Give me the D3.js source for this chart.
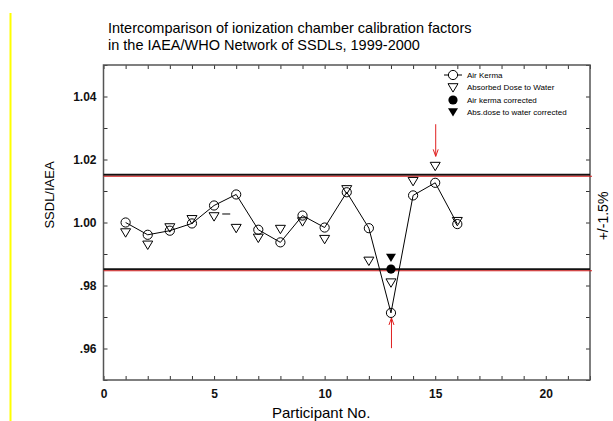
<!DOCTYPE html>
<html>
<head>
<meta charset="utf-8">
<script src="https://cdn.jsdelivr.net/npm/d3@7"></script>
<style>
  body { margin: 0; background: #fff; }
  svg { display: block; font-family: "Liberation Sans", Arial, sans-serif; }
  .axis path { display: none; }
  .axis line { stroke: #333; stroke-width: 1; }
  .axis text { font-size: 12px; font-weight: bold; fill: #111; font-family: "Liberation Sans", Arial, sans-serif; }
</style>
</head>
<body>
<svg width="613" height="421"></svg>
<script>
  const width = 613;
  const height = 421;
  const margin = {top: 65, right: 23, bottom: 41, left: 103.5};

  // participants 1..16
  const participants = [1, 2, 3, 4, 5, 6, 7, 8, 9, 10, 11, 12, 13, 14, 15, 16];
  const airKerma = [1.0000, 0.9961, 0.9974, 0.9997, 1.0054, 1.0089, 0.9977, 0.9937,
                    1.0022, 0.9984, 1.0096, 0.9982, 0.9713, 1.0086, 1.0126, 0.9995];
  const absDose = [0.9968, 0.9929, 0.9984, 1.0010, 1.0019, 0.9982, 0.9951, 0.9979,
                   1.0003, 0.9947, 1.0105, 0.9878, 0.9809, 1.0131, 1.0179, 1.0004];
  const airKermaCorrected = [{p: 13, v: 0.9852}];
  const absDoseCorrected = [{p: 13, v: 0.9889}];
  const limits = [1.015, 0.985];
  // red arrows (participant, tail value, head value)
  const arrows = [{p: 15, from: 1.0312, to: 1.0210}, {p: 13, from: 0.9601, to: 0.9697}];
  // stray dash near participant 5-6
  const dashes = [{p: 5.55, v: 1.0027}];

  const xTicks = [0, 1, 2, 3, 4, 5, 6, 7, 8, 9, 10, 11, 12, 13, 14, 15, 16, 17, 18, 19, 20, 21, 22];
  const xLabels = [0, 5, 10, 15, 20];
  const yTicks = [0.95, 0.96, 0.97, 0.98, 0.99, 1.00, 1.01, 1.02, 1.03, 1.04, 1.05];
  const yLabels = [0.96, 0.98, 1.00, 1.02, 1.04];

  const svg = d3.select("svg");

  const x = d3.scaleLinear().domain([0, 22]).range([margin.left, width - margin.right]);
  const y = d3.scaleLinear().domain([0.95, 1.05]).range([height - margin.bottom, margin.top]);

  // yellow margin line
  svg.append("line")
    .attr("x1", 10.5).attr("x2", 10.5)
    .attr("y1", 13).attr("y2", 421)
    .style("stroke", "#ffff00")
    .style("stroke-width", 2);

  //title
  svg.append("text")
    .attr("x", 108).attr("y", 33)
    .style("font-size", "14.5px")
    .text("Intercomparison of ionization chamber calibration factors");
  svg.append("text")
    .attr("x", 108).attr("y", 50)
    .style("font-size", "14.5px")
    .text("in the IAEA/WHO Network of SSDLs, 1999-2000");

  const fmtY = d => {
    if (!yLabels.some(v => Math.abs(v - d) < 1e-6)) return "";
    const s = d3.format(".2f")(d);
    return s.startsWith("0") ? s.slice(1) : s;
  };
  const fmtX = d => xLabels.includes(d) ? d : "";

  // axes, ticks point inward
  svg.append("g").attr("class", "axis")
    .attr("transform", `translate(0,${height - margin.bottom})`)
    .call(d3.axisBottom(x).tickValues(xTicks).tickSize(-4).tickPadding(9).tickFormat(fmtX));
  svg.append("g").attr("class", "axis")
    .attr("transform", `translate(0,${margin.top})`)
    .call(d3.axisTop(x).tickValues(xTicks).tickSize(-4).tickFormat(""));
  svg.append("g").attr("class", "axis")
    .attr("transform", `translate(${margin.left},0)`)
    .call(d3.axisLeft(y).tickValues(yTicks).tickSize(-4).tickPadding(7).tickFormat(fmtY));
  svg.append("g").attr("class", "axis")
    .attr("transform", `translate(${width - margin.right},0)`)
    .call(d3.axisRight(y).tickValues(yTicks).tickSize(-4).tickFormat(""));

  // frame
  svg.append("rect")
    .attr("x", x(0)).attr("y", y(1.05))
    .attr("width", x(22) - x(0)).attr("height", y(0.95) - y(1.05))
    .style("fill", "none")
    .style("stroke", "#555")
    .style("stroke-width", 1.5);

  // +/- 1.5% limits
  limits.forEach(v => {
    svg.append("line")
      .attr("x1", x(0)).attr("x2", x(22))
      .attr("y1", y(v) - 0.5).attr("y2", y(v) - 0.5)
      .style("stroke", "#111").style("stroke-width", 2);
    svg.append("line")
      .attr("x1", x(0)).attr("x2", x(22) + 2)
      .attr("y1", y(v) + 1).attr("y2", y(v) + 1)
      .style("stroke", "#d62020").style("stroke-width", 1);
  });

  // air kerma connecting line
  const line = d3.line().x((d, i) => x(participants[i])).y(d => y(d));
  svg.append("path")
    .datum(airKerma)
    .attr("d", line)
    .style("fill", "none")
    .style("stroke", "#000")
    .style("stroke-width", 1);

  const triDown = "M-5,-3.8L5,-3.8L0,4.6Z";

  svg.selectAll(".absdose")
    .data(absDose)
    .enter()
    .append("path")
      .attr("class", "absdose")
      .attr("d", triDown)
      .attr("transform", (d, i) => `translate(${x(participants[i])},${y(d)})`)
      .style("fill", "none")
      .style("stroke", "#000")
      .style("stroke-width", 1);

  svg.selectAll(".airkerma")
    .data(airKerma)
    .enter()
    .append("circle")
      .attr("class", "airkerma")
      .attr("cx", (d, i) => x(participants[i]))
      .attr("cy", d => y(d))
      .attr("r", 4.6)
      .style("fill", "none")
      .style("stroke", "#000")
      .style("stroke-width", 1);

  svg.selectAll(".akcorr")
    .data(airKermaCorrected)
    .enter()
    .append("circle")
      .attr("cx", d => x(d.p))
      .attr("cy", d => y(d.v))
      .attr("r", 4.6)
      .style("fill", "#000");

  svg.selectAll(".adcorr")
    .data(absDoseCorrected)
    .enter()
    .append("path")
      .attr("d", triDown)
      .attr("transform", d => `translate(${x(d.p)},${y(d.v)})`)
      .style("fill", "#000");

  svg.selectAll(".dash")
    .data(dashes)
    .enter()
    .append("line")
      .attr("x1", d => x(d.p) - 4).attr("x2", d => x(d.p) + 4)
      .attr("y1", d => y(d.v)).attr("y2", d => y(d.v))
      .style("stroke", "#000");

  // red arrows
  arrows.forEach(a => {
    const ax = x(a.p) + 0.5;
    const dir = a.to < a.from ? 1 : -1; // 1 means pointing down on screen
    svg.append("line")
      .attr("x1", ax).attr("x2", ax)
      .attr("y1", y(a.from)).attr("y2", y(a.to))
      .style("stroke", "#e02020").style("stroke-width", 1);
    const hy = y(a.to);
    svg.append("path")
      .attr("d", `M${ax - 2.5},${hy - dir * 7}L${ax},${hy}L${ax + 2.5},${hy - dir * 7}`)
      .style("fill", "none")
      .style("stroke", "#e02020").style("stroke-width", 1);
  });

  // legend
  const legend = svg.append("g").attr("transform", "translate(453,75)");
  const rows = ["Air Kerma", "Absorbed Dose to Water", "Air kerma corrected", "Abs.dose to water corrected"];
  const rowY = [0, 12.5, 25, 37];
  legend.append("line").attr("x1", -9).attr("x2", 9).attr("y1", 0).attr("y2", 0).style("stroke", "#000");
  legend.append("circle").attr("r", 4.6).attr("cy", rowY[0]).style("fill", "#fff").style("stroke", "#000");
  legend.append("path").attr("d", triDown).attr("transform", `translate(0,${rowY[1]})`).style("fill", "none").style("stroke", "#000");
  legend.append("circle").attr("r", 4.6).attr("cy", rowY[2]).style("fill", "#000");
  legend.append("path").attr("d", triDown).attr("transform", `translate(0,${rowY[3]})`).style("fill", "#000");
  legend.selectAll("text.leg")
    .data(rows)
    .enter()
    .append("text")
      .attr("class", "leg")
      .attr("x", 14)
      .attr("y", (d, i) => rowY[i] + 2.8)
      .style("font-size", "8px")
      .text(d => d);

  // axis titles
  svg.append("text")
    .attr("x", 272).attr("y", 418)
    .style("font-size", "15px")
    .text("Participant No.");
  svg.append("text")
    .attr("transform", "translate(54,195) rotate(-90)")
    .attr("text-anchor", "middle")
    .style("font-size", "13px")
    .text("SSDL/IAEA");
  svg.append("text")
    .attr("transform", "translate(608,216) rotate(-90)")
    .attr("text-anchor", "middle")
    .style("font-size", "14px")
    .text("+/-1.5%");
</script>
</body>
</html>
